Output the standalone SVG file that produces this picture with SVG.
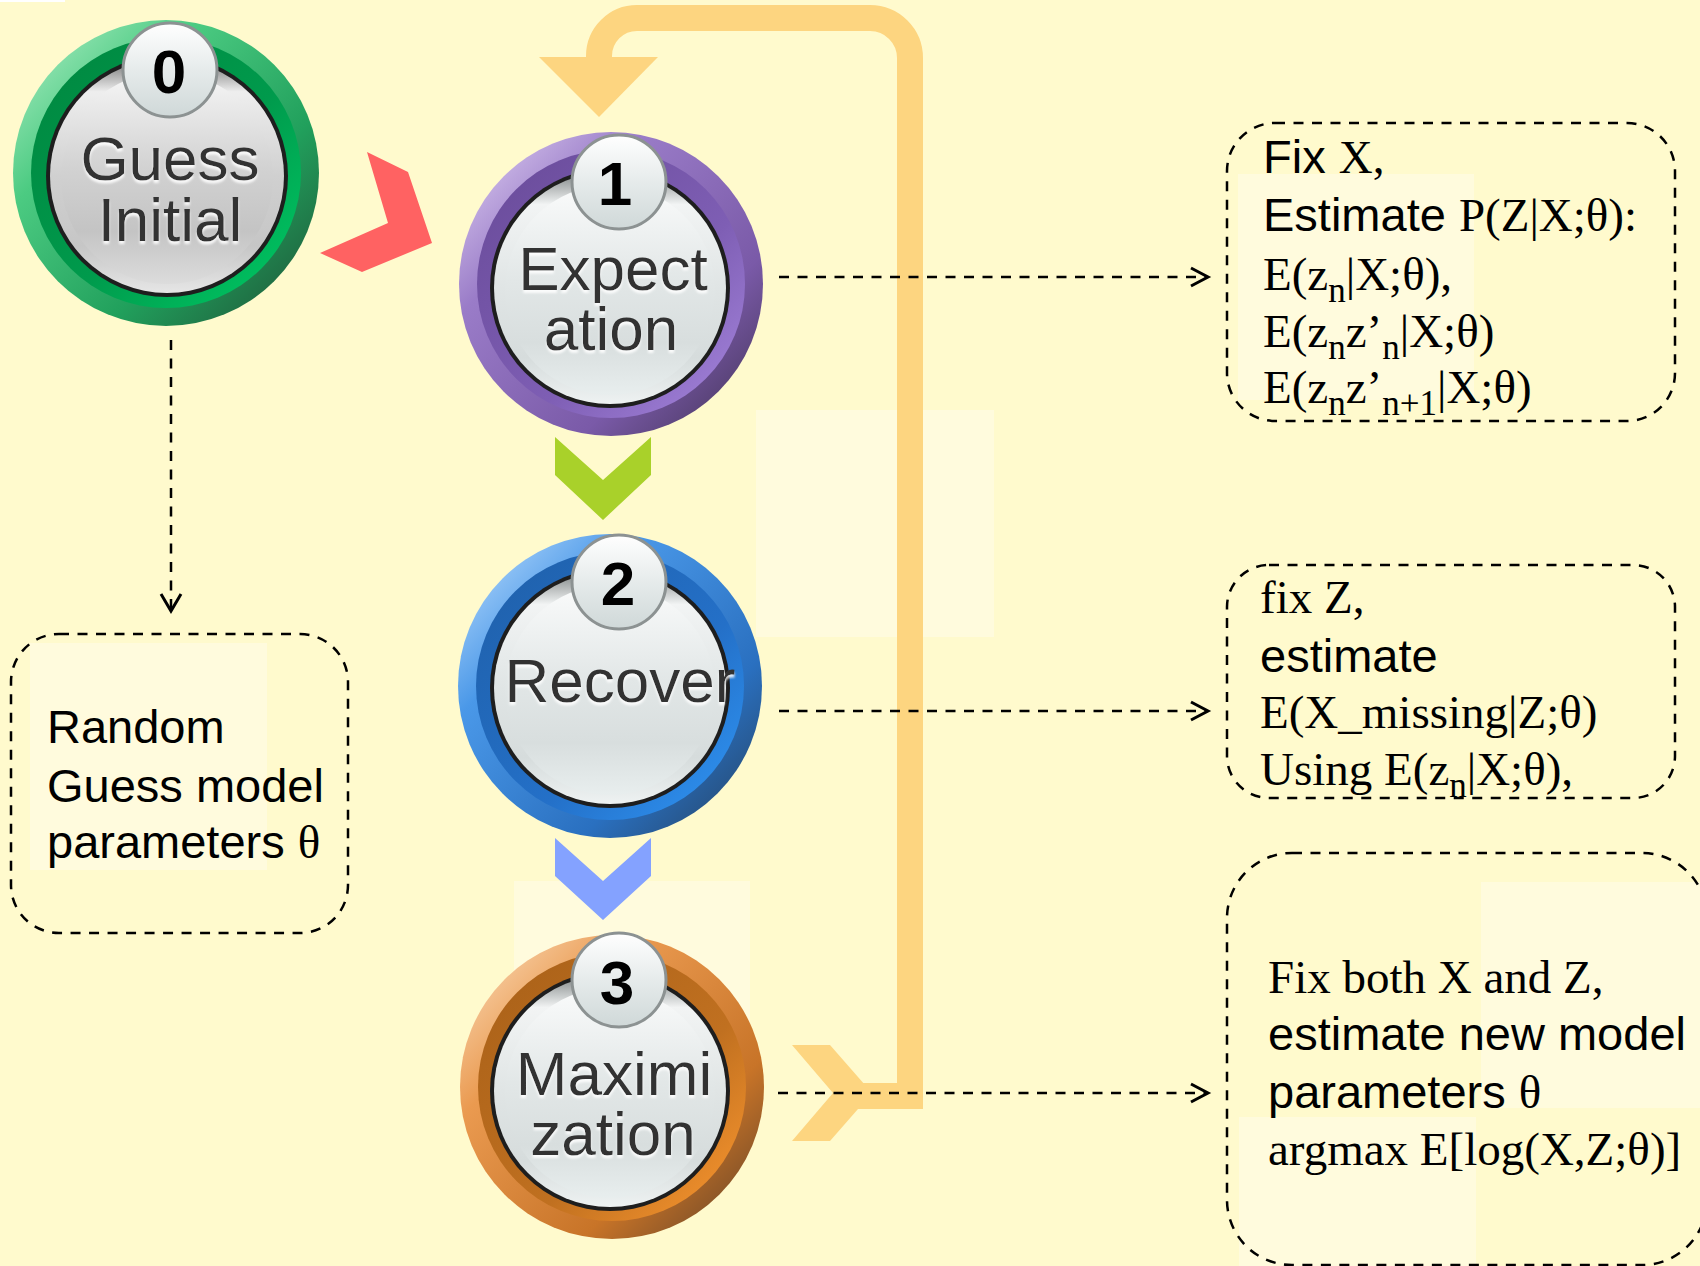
<svg xmlns="http://www.w3.org/2000/svg" width="1700" height="1266" viewBox="0 0 1700 1266">
  <defs>
    <style>
      .bg { fill: #FFFACD; }
      .hl { fill: #FFFBDD; }
      .lbl { font-family: "Liberation Sans", Arial, sans-serif; font-size: 62px; fill: #333333; text-anchor: middle; filter: url(#emboss); }
      .num { font-family: "Liberation Sans", Arial, sans-serif; font-size: 62px; font-weight: bold; fill: #000000; text-anchor: middle; }
      .note { font-size: 47px; fill: #000000; }
      .sans { font-family: "Liberation Sans", Arial, sans-serif; }
      .serif { font-family: "Liberation Serif", "Times New Roman", serif; }
      .sub { font-size: 35px; }
      .dash { fill: none; stroke: #000000; stroke-width: 2.5; stroke-dasharray: 10 8.5; }
      .head { fill: none; stroke: #000000; stroke-width: 3; stroke-linejoin: miter; }
      .frame { fill: none; stroke: #000000; stroke-width: 2.5; stroke-dasharray: 10 8.5; }
      .loop { fill: none; stroke: #FDD580; stroke-width: 26; stroke-linejoin: miter; }
      .ring-edge { fill: #1E1E1E; }
      .badge { fill: url(#badgeFill); stroke: #8C9292; stroke-width: 3; }
    </style>

    <filter id="emboss" x="-10%" y="-10%" width="120%" height="130%">
      <feDropShadow dx="0" dy="3" stdDeviation="1" flood-color="#FFFFFF" flood-opacity="0.85"/>
    </filter>

    <!-- ring gradients -->
    <linearGradient id="greenOuter" x1="0" y1="0" x2="1" y2="1">
      <stop offset="0" stop-color="#B5F0CA"/>
      <stop offset="0.3" stop-color="#4CCB82"/>
      <stop offset="0.65" stop-color="#21A05C"/>
      <stop offset="1" stop-color="#1F4F35"/>
    </linearGradient>
    <linearGradient id="greenBand" x1="0" y1="0" x2="1" y2="1">
      <stop offset="0" stop-color="#00863F"/>
      <stop offset="0.55" stop-color="#009A4C"/>
      <stop offset="1" stop-color="#00CC66"/>
    </linearGradient>
    <linearGradient id="purpleOuter" x1="0" y1="0" x2="1" y2="1">
      <stop offset="0" stop-color="#E4D6F6"/>
      <stop offset="0.3" stop-color="#9A7CC8"/>
      <stop offset="0.7" stop-color="#7A5AA8"/>
      <stop offset="1" stop-color="#3E3050"/>
    </linearGradient>
    <linearGradient id="purpleBand" x1="0" y1="0" x2="1" y2="1">
      <stop offset="0" stop-color="#684A98"/>
      <stop offset="0.6" stop-color="#7E5EB4"/>
      <stop offset="1" stop-color="#A888E0"/>
    </linearGradient>
    <linearGradient id="blueOuter" x1="0" y1="0" x2="1" y2="1">
      <stop offset="0" stop-color="#C4E2FF"/>
      <stop offset="0.3" stop-color="#4A98E8"/>
      <stop offset="0.7" stop-color="#2A70C0"/>
      <stop offset="1" stop-color="#253F5C"/>
    </linearGradient>
    <linearGradient id="blueBand" x1="0" y1="0" x2="1" y2="1">
      <stop offset="0" stop-color="#1F5FA8"/>
      <stop offset="0.6" stop-color="#2470C8"/>
      <stop offset="1" stop-color="#3098F8"/>
    </linearGradient>
    <linearGradient id="orangeOuter" x1="0" y1="0" x2="1" y2="1">
      <stop offset="0" stop-color="#FCE2C4"/>
      <stop offset="0.3" stop-color="#EA9A50"/>
      <stop offset="0.7" stop-color="#C87428"/>
      <stop offset="1" stop-color="#5A3E28"/>
    </linearGradient>
    <linearGradient id="orangeBand" x1="0" y1="0" x2="1" y2="1">
      <stop offset="0" stop-color="#A86018"/>
      <stop offset="0.6" stop-color="#C07020"/>
      <stop offset="1" stop-color="#FF9A30"/>
    </linearGradient>

    <!-- face gradients -->
    <linearGradient id="faceRim" x1="0" y1="0" x2="0" y2="1">
      <stop offset="0" stop-color="#7E8484"/>
      <stop offset="0.14" stop-color="#F2F4F4"/>
      <stop offset="0.5" stop-color="#E0E5E5"/>
      <stop offset="0.8" stop-color="#D6DCDC"/>
      <stop offset="1" stop-color="#EEF2F2"/>
    </linearGradient>
    <linearGradient id="faceFill" x1="0" y1="0" x2="0" y2="1">
      <stop offset="0" stop-color="#FAFBFB"/>
      <stop offset="0.45" stop-color="#E2E7E7"/>
      <stop offset="0.75" stop-color="#D8DEDE"/>
      <stop offset="1" stop-color="#E8EEEE"/>
    </linearGradient>
    <linearGradient id="greyRim" x1="0" y1="0" x2="0" y2="1">
      <stop offset="0" stop-color="#6E6E6E"/>
      <stop offset="0.14" stop-color="#EEEEEE"/>
      <stop offset="0.5" stop-color="#D0D0D0"/>
      <stop offset="0.8" stop-color="#C6C6C6"/>
      <stop offset="1" stop-color="#E6E6E6"/>
    </linearGradient>
    <linearGradient id="greyFill" x1="0" y1="0" x2="0" y2="1">
      <stop offset="0" stop-color="#F6F6F6"/>
      <stop offset="0.45" stop-color="#D2D2D2"/>
      <stop offset="0.75" stop-color="#C4C4C4"/>
      <stop offset="1" stop-color="#DCDCDC"/>
    </linearGradient>
    <linearGradient id="badgeFill" x1="0" y1="0" x2="0" y2="1">
      <stop offset="0" stop-color="#FFFFFF"/>
      <stop offset="0.5" stop-color="#E6EBEB"/>
      <stop offset="1" stop-color="#CFD8D8"/>
    </linearGradient>
  </defs>

  <!-- page -->
  <rect class="bg" x="0" y="0" width="1700" height="1266"/>
  <rect x="0" y="0" width="65" height="2" fill="#FFFFFF"/>

  <!-- pale text-frame backdrops -->
  <g id="backdrops">
    <rect class="hl" x="756" y="410" width="238" height="227"/>
    <rect class="hl" x="30" y="643" width="237" height="227"/>
    <rect class="hl" x="1238" y="174" width="236" height="226"/>
    <rect class="hl" x="1481" y="882" width="219" height="226"/>
    <rect class="hl" x="1239" y="1117" width="237" height="149"/>
    <rect class="hl" x="514" y="881" width="236" height="226"/>
  </g>

  <!-- connectors -->
  <g id="connectors">
    <!-- feedback loop from Maximization back to Expectation -->
    <path class="loop" d="M843 1096 H910 V58 A40 40 0 0 0 870 18 H637 A38 38 0 0 0 599 56 V60"/>
    <polygon points="539,57 658,57 599,117" fill="#FDD580"/>
    <polygon points="792,1045 830,1045 872,1093 830,1141 792,1141 833,1093" fill="#FDD580"/>

    <!-- step chevrons -->
    <polygon points="367,152 408,172 432,243 362,272 320,253 388,223" fill="#FF6262"/>
    <polygon points="555,437 603,480 651,437 651,475 603,520 555,475" fill="#A9D12A"/>
    <polygon points="555,838 603,881 651,838 651,876 603,920 555,876" fill="#84A2FF"/>

    <!-- dashed annotation links -->
    <path class="dash" d="M171 340 V609"/>
    <polyline class="head" points="161,594 171,611 181,594"/>
    <path class="dash" d="M779 277 H1206"/>
    <polyline class="head" points="1191,268 1208,277 1191,286"/>
    <path class="dash" d="M779 711 H1206"/>
    <polyline class="head" points="1191,702 1208,711 1191,720"/>
    <path class="dash" d="M778 1093 H1206"/>
    <polyline class="head" points="1191,1084 1208,1093 1191,1102"/>
  </g>

  <!-- step 0 -->
  <g id="node-guess">
    <circle cx="166" cy="173" r="153" fill="url(#greenOuter)"/>
    <circle cx="166" cy="173" r="135" fill="url(#greenBand)"/>
    <circle class="ring-edge" cx="167" cy="176" r="121"/>
    <circle cx="167" cy="176" r="117" fill="url(#greyRim)"/>
    <circle cx="167" cy="178" r="106" fill="url(#greyFill)"/>
    <circle class="badge" cx="170" cy="70" r="47"/>
    <text class="num" x="169" y="93">0</text>
    <text class="lbl" x="170" y="180">Guess</text>
    <text class="lbl" x="170" y="241">Initial</text>
  </g>

  <!-- step 1 -->
  <g id="node-expectation">
    <circle cx="611" cy="284" r="152" fill="url(#purpleOuter)"/>
    <circle cx="611" cy="284" r="134" fill="url(#purpleBand)"/>
    <circle class="ring-edge" cx="610" cy="288" r="120"/>
    <circle cx="610" cy="288" r="116" fill="url(#faceRim)"/>
    <circle cx="610" cy="290" r="105" fill="url(#faceFill)"/>
    <circle class="badge" cx="619" cy="182" r="47"/>
    <text class="num" x="615" y="205">1</text>
    <text class="lbl" x="613" y="290">Expect</text>
    <text class="lbl" x="611" y="350">ation</text>
  </g>

  <!-- step 2 -->
  <g id="node-recover">
    <circle cx="610" cy="686" r="152" fill="url(#blueOuter)"/>
    <circle cx="610" cy="686" r="134" fill="url(#blueBand)"/>
    <circle class="ring-edge" cx="610" cy="688" r="120"/>
    <circle cx="610" cy="688" r="116" fill="url(#faceRim)"/>
    <circle cx="610" cy="690" r="105" fill="url(#faceFill)"/>
    <circle class="badge" cx="619" cy="582" r="47"/>
    <text class="num" x="618" y="605">2</text>
    <text class="lbl" x="620" y="702">Recover</text>
  </g>

  <!-- step 3 -->
  <g id="node-maximization">
    <circle cx="612" cy="1087" r="152" fill="url(#orangeOuter)"/>
    <circle cx="612" cy="1087" r="134" fill="url(#orangeBand)"/>
    <circle class="ring-edge" cx="610" cy="1091" r="120"/>
    <circle cx="610" cy="1091" r="116" fill="url(#faceRim)"/>
    <circle cx="610" cy="1093" r="105" fill="url(#faceFill)"/>
    <circle class="badge" cx="619" cy="980" r="47"/>
    <text class="num" x="617" y="1004">3</text>
    <text class="lbl" x="614" y="1095">Maximi</text>
    <text class="lbl" x="613" y="1155">zation</text>
  </g>

  <!-- note: initial guess -->
  <g id="note-init">
    <rect class="frame" x="11" y="634" width="337" height="299" rx="48"/>
    <text class="note sans" x="47" y="743">Random</text>
    <text class="note sans" x="47" y="802">Guess model</text>
    <text class="note" x="47" y="858"><tspan class="sans">parameters </tspan><tspan class="serif">θ</tspan></text>
  </g>

  <!-- note: E-step -->
  <g id="note-estep">
    <rect class="frame" x="1227" y="123" width="448" height="298" rx="48"/>
    <text class="note" x="1263" y="173"><tspan class="sans">Fix </tspan><tspan class="serif">X,</tspan></text>
    <text class="note" x="1263" y="231"><tspan class="sans">Estimate </tspan><tspan class="serif">P(Z|X;θ):</tspan></text>
    <text class="note serif" x="1263" y="290">E(z<tspan class="sub" dy="12">n</tspan><tspan dy="-12">|X;θ),</tspan></text>
    <text class="note serif" x="1263" y="347">E(z<tspan class="sub" dy="12">n</tspan><tspan dy="-12">z’</tspan><tspan class="sub" dy="12">n</tspan><tspan dy="-12">|X;θ)</tspan></text>
    <text class="note serif" x="1263" y="403">E(z<tspan class="sub" dy="12">n</tspan><tspan dy="-12">z’</tspan><tspan class="sub" dy="12">n+1</tspan><tspan dy="-12">|X;θ)</tspan></text>
  </g>

  <!-- note: recovery step -->
  <g id="note-recover">
    <rect class="frame" x="1227" y="565" width="448" height="233" rx="42"/>
    <text class="note serif" x="1260" y="613">fix Z,</text>
    <text class="note sans" x="1260" y="672">estimate</text>
    <text class="note serif" x="1260" y="728">E(X_missing|Z;θ)</text>
    <text class="note serif" x="1260" y="785">Using E(z<tspan class="sub" dy="12">n</tspan><tspan dy="-12">|X;θ),</tspan></text>
  </g>

  <!-- note: M-step -->
  <g id="note-mstep">
    <rect class="frame" x="1227" y="853" width="480" height="412" rx="65"/>
    <text class="note serif" x="1268" y="993">Fix both X and Z,</text>
    <text class="note sans" x="1268" y="1050">estimate new model</text>
    <text class="note" x="1268" y="1108"><tspan class="sans">parameters </tspan><tspan class="serif">θ</tspan></text>
    <text class="note serif" x="1268" y="1165">argmax E[log(X,Z;θ)]</text>
  </g>
</svg>
